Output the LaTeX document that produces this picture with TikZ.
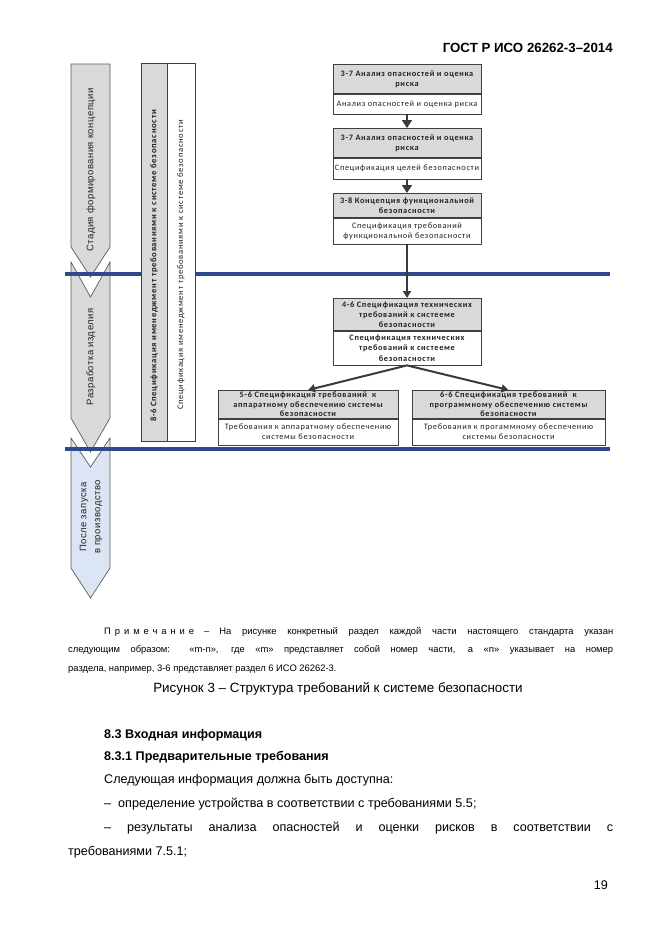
\documentclass[tikz,border=0pt]{standalone}
\usepackage{fontspec}
\setmainfont{Liberation Sans}
\newfontfamily\cfont[LetterSpace=8]{Carlito}
\newfontfamily\afont[LetterSpace=5]{Liberation Sans}
\usetikzlibrary{arrows.meta}
\definecolor{hdrgray}{HTML}{D9D9D9}
\definecolor{boxedge}{HTML}{404040}
\definecolor{linegray}{HTML}{3A3A3A}
\definecolor{edgegray}{HTML}{5A5A5A}
\definecolor{bandblue}{HTML}{2F4A8A}
\definecolor{lightblue}{HTML}{DBE5F3}
\definecolor{boxtext}{HTML}{222222}
\tikzset{
  hdrbox/.style={draw=boxedge, line width=0.7pt, fill=hdrgray, anchor=north, inner sep=0pt, align=center, text=boxtext, font=\cfont\bfseries\fontsize{8.3}{10}\selectfont},
  bodybox/.style={draw=boxedge, line width=0.7pt, fill=white, anchor=north, inner sep=0pt, align=center, text=boxtext, font=\cfont\fontsize{8.3}{10}\selectfont},
  stagearrow/.style={draw=edgegray, line width=0.7pt},
  stagetext/.style={rotate=90, align=center, text=boxtext, font=\afont\fontsize{9.5}{14}\selectfont},
  coltext/.style={rotate=90, text=boxtext, inner sep=0pt},
  band/.style={draw=bandblue, line width=4pt},
  conn/.style={draw=linegray, line width=2.5pt, -{Triangle[width=10pt,length=8pt]}},
  thinconn/.style={draw=linegray, line width=2pt, -{Triangle[width=8pt,length=7pt]}},
  page/.style={inner sep=0pt, text=black, font=\fontsize{12.6}{15}\selectfont},
  pagebold/.style={inner sep=0pt, text=black, font=\bfseries\fontsize{12.6}{15}\selectfont},
  note/.style={inner sep=0pt, text=black, font=\fontsize{9.4}{12}\selectfont}
}
\begin{document}
\begin{tikzpicture}[x=1pt,y=-1pt]
\useasboundingbox[fill=white] (0,0) rectangle (661,935);

% header
\node[inner sep=0pt, anchor=base east, font=\bfseries\fontsize{13.3}{15}\selectfont] (gost) at (613,52) {ГОСТ Р ИСО 26262-3–2014};

% stage arrows
\draw[stagearrow, fill=hdrgray] (71,64) -- (110,64) -- (110,247) -- (90.5,277) -- (71,247) -- cycle;
\draw[stagearrow, fill=hdrgray] (71,262) -- (90.5,297) -- (110,262) -- (110,418) -- (90.5,452) -- (71,418) -- cycle;
\draw[stagearrow, fill=lightblue] (71,438) -- (90.5,467) -- (110,438) -- (110,568) -- (90.5,598) -- (71,568) -- cycle;
\node[stagetext] (s1) at (91,170) {Стадия формирования концепции};
\node[stagetext] (s2) at (91,357) {Разработка изделия};
\node[stagetext] (s3) at (91,517) {После запуска\\в производство};

% blue phase lines
\coordinate (l1a) at (65,274);
\coordinate (l1b) at (610,274);
\coordinate (l2a) at (65,449);
\coordinate (l2b) at (610,449);
\draw[band] (l1a) -- (l1b);
\draw[band] (l2a) -- (l2b);

% management column
\node[draw=boxedge, line width=0.7pt, fill=hdrgray, minimum width=26pt, minimum height=378pt, anchor=north west, inner sep=0pt] (colA) at (141,63) {};
\node[draw=boxedge, line width=0.7pt, fill=white, minimum width=28pt, minimum height=378pt, anchor=north west, inner sep=0pt] (colB) at (167,63) {};
\node[coltext, font=\cfont\bfseries\fontsize{8.6}{9}\selectfont] (colAt) at (154,266) {8-6 Спецификация именеджмент требованиями к системе безопасности};
\node[coltext, font=\cfont\fontsize{8.6}{9}\selectfont] (colBt) at (181,265) {Спецификация именеджмент требованиями к системе безопасности};

% flow boxes
\node[hdrbox, minimum width=148pt, minimum height=29pt] (h1) at (407,64) {3-7 Анализ опасностей и оценка\\риска};
\node[bodybox, minimum width=148pt, minimum height=20pt] (b1) at (h1.south) {Анализ опасностей и оценка риска};

\node[hdrbox, minimum width=148pt, minimum height=29pt] (h2) at (407,128) {3-7 Анализ опасностей и оценка\\риска};
\node[bodybox, minimum width=148pt, minimum height=21pt] (b2) at (h2.south) {Спецификация целей безопасности};

\node[hdrbox, minimum width=148pt, minimum height=24pt] (h3) at (407,193) {3-8 Концепция функциональной\\безопасности};
\node[bodybox, minimum width=148pt, minimum height=26pt] (b3) at (h3.south) {Спецификация требований\\функциональной безопасности};

\node[hdrbox, minimum width=148pt, minimum height=32pt] (h4) at (407,298) {4-6 Спецификация технических\\требований к систееме\\безопасности};
\node[bodybox, minimum width=148pt, minimum height=34pt, font=\cfont\bfseries\fontsize{8.3}{10.8}\selectfont] (b4) at (h4.south) {Спецификация технических\\требований к систееме\\безопасности};

\node[hdrbox, minimum width=180pt, minimum height=28pt, font=\cfont\bfseries\fontsize{8.3}{9.4}\selectfont] (h5) at (308,390) {5-6 Спецификация требований \ к\\аппаратному обеспечению системы\\безопасности};
\node[bodybox, minimum width=180pt, minimum height=26pt] (b5) at (h5.south) {Требования к аппаратному обеспечению\\системы безопасности};

\node[hdrbox, minimum width=193pt, minimum height=28pt, font=\cfont\bfseries\fontsize{8.3}{9.4}\selectfont] (h6) at (508.5,390) {6-6 Спецификация требований \ к\\программному обеспечению системы\\безопасности};
\node[bodybox, minimum width=193pt, minimum height=26pt] (b6) at (h6.south) {Требования к прогаммному обеспечению\\системы безопасности};

% connectors
\draw[conn] (b1.south) -- (h2.north);
\draw[conn] (b2.south) -- (h3.north);
\draw[thinconn] (b3.south) -- (h4.north);
\draw[thinconn] (b4.south) -- (h5.north);
\draw[thinconn] (b4.south) -- (h6.north);

% note and caption
\node[note, anchor=base west] (n1) at (104,634) {\makebox[509pt][s]{{\addfontfeature{LetterSpace=42}Примечание}\kern10pt–\kern10pt\relax На рисунке конкретный раздел каждой части настоящего стандарта указан}};
\node[note, anchor=base west] (n2) at (68,652) {\makebox[545pt][s]{следующим образом: «m-n», где «m» представляет собой номер части, а «n» указывает на номер}};
\node[note, anchor=base west] (n3) at (68,671) {раздела, например, 3-6 представляет раздел 6 ИСО 26262-3.};
\node[inner sep=0pt, anchor=base, font=\fontsize{13.4}{15}\selectfont] (cap) at (338,692) {Рисунок 3 – Структура требований к системе безопасности};

% body text
\node[pagebold, anchor=base west] (t1) at (104,738) {8.3 Входная информация};
\node[pagebold, anchor=base west] (t2) at (104,760) {8.3.1 Предварительные требования};
\node[page, anchor=base west] (t3) at (104,783) {Следующая информация должна быть доступна:};
\node[page, anchor=base west] (t4) at (104,807) {– \ определение устройства в соответствии с требованиями 5.5;};
\node[page, anchor=base west] (t5) at (104,831) {\makebox[509pt][s]{– результаты анализа опасностей и оценки рисков в соответствии с}};
\node[page, anchor=base west] (t6) at (68,855) {требованиями 7.5.1;};
\node[page, anchor=base east] (pg) at (608,889) {19};
\end{tikzpicture}
\end{document}
